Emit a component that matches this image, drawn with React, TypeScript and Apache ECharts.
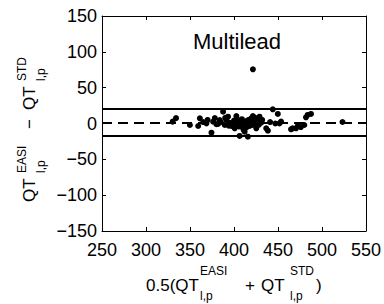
import React, { useEffect, useRef } from "react";
import * as echarts from "echarts";

const xTicks = [250, 300, 350, 400, 450, 500, 550];
const yTicks = [-150, -100, -50, 0, 50, 100, 150];

const meanQT = [
  330.3, 334.1, 349.9, 359.3, 361.2, 365, 368.7, 370, 374.4, 376.3, 378.2, 380,
  381.9, 383.8, 385, 387.6, 389.5, 390, 391.3, 393.2, 394, 395, 397, 398.9, 400,
  400.8, 401.5, 402.7, 403.5, 404.5, 405.5, 406.4, 407, 408.3, 409, 410.2, 411,
  412.1, 413, 414, 414.5, 415.8, 416.5, 417.7, 418.5, 419.6, 420.5, 421.5, 421.5,
  422.5, 423.4, 424, 425.3, 426, 427.2, 428, 429, 430.9, 432, 436.6, 438.5, 441,
  444.1, 447, 449.8, 451.7, 453.5, 464.8, 466.7, 470.5, 472.4, 476, 479.9, 481.8,
  483.7, 487.5, 523.3,
];
const diffQT = [
  2.6, 7.5, -2.1, -3.5, 7.2, 2, 0.2, 5, -12.8, 2.6, 7.5, -1, -0.7, 4.9, 2, 16.5,
  -2.1, 8, 4.9, 9.5, -3, 1, -3.5, 0.2, 4, -6.7, 2, 10.5, -1, 4.9, -4, -17.4, 1,
  -4.4, 6, -0.7, -9, -11.4, 3, 2.6, -5, -18.4, 5, -3.5, 1.5, 7.2, -2, 10.5, 75.6,
  4, -2.1, 8, -6.7, 1, 4.9, -2, 9.5, 1.2, 5, -6.7, -10, 2, 19.8, 0, 13.3, 0.2, 2.6,
  -8.1, -6.7, -6.7, -3.5, -5, -2.1, 8.6, 11.9, 13.3, 2.1,
];
const upperLimit = 21;
const meanDiff = 1.5;
const lowerLimit = -17.5;
const titleText = "Multilead";

const FONT = '"Liberation Sans", Arial, Helvetica, sans-serif';
const C = 0.3465;

function txt(text: string, x: number, baseline: number, size: number) {
  return {
    type: "text",
    x,
    y: baseline - C * size,
    style: {
      text,
      font: `${size}px ${FONT}`,
      fill: "#000",
      align: "left",
      verticalAlign: "middle",
    },
  };
}
function rtxt(text: string, startY: number, baselineX: number, size: number) {
  return {
    type: "text",
    x: baselineX - C * size,
    y: startY,
    rotation: Math.PI / 2,
    style: {
      text,
      font: `${size}px ${FONT}`,
      fill: "#000",
      align: "left",
      verticalAlign: "middle",
    },
  };
}

export default function App() {
  const ref = useRef<HTMLDivElement>(null);
  useEffect(() => {
    document.body.style.margin = "0";
    if (!ref.current) return;
    const chart = echarts.init(ref.current, null, { renderer: "svg" });
    const fmt = (v: number) => String(v).replace("-", "\u2212");
    const axisCommon = {
      type: "value" as const,
      axisLine: { show: true, onZero: false, lineStyle: { color: "#000", width: 1 } },
      axisTick: { show: true, inside: true, length: 4, lineStyle: { color: "#000" } },
      splitLine: { show: false },
    };
    chart.setOption({
      animation: false,
      backgroundColor: "#fff",
      grid: { left: 102, top: 16, width: 265, height: 215, containLabel: false },
      xAxis: [
        {
          ...axisCommon,
          position: "bottom",
          min: xTicks[0],
          max: xTicks[xTicks.length - 1],
          interval: 50,
          axisLabel: { fontSize: 18, color: "#000", fontFamily: FONT, margin: 10, formatter: fmt },
        },
        {
          ...axisCommon,
          position: "top",
          min: xTicks[0],
          max: xTicks[xTicks.length - 1],
          interval: 50,
          axisLabel: { show: false },
        },
      ],
      yAxis: [
        {
          ...axisCommon,
          position: "left",
          min: yTicks[0],
          max: yTicks[yTicks.length - 1],
          interval: 50,
          axisLabel: { fontSize: 18, color: "#000", fontFamily: FONT, margin: 5, formatter: fmt },
        },
        {
          ...axisCommon,
          position: "right",
          min: yTicks[0],
          max: yTicks[yTicks.length - 1],
          interval: 50,
          axisLabel: { show: false },
        },
      ],
      series: [
        {
          type: "scatter",
          xAxisIndex: 0,
          yAxisIndex: 0,
          symbolSize: 6,
          itemStyle: { color: "#000", opacity: 1 },
          data: meanQT.map((x, i) => [x, diffQT[i]]),
          markLine: {
            silent: true,
            symbol: "none",
            label: { show: false },
            data: [
              { yAxis: upperLimit, lineStyle: { color: "#000", width: 2, type: "solid" } },
              { yAxis: meanDiff, lineStyle: { color: "#000", width: 2, type: [10, 6] } },
              { yAxis: lowerLimit, lineStyle: { color: "#000", width: 2, type: "solid" } },
            ],
          },
        },
      ],
      graphic: [
        {
          type: "text",
          x: 237,
          y: 49.3 - C * 22,
          style: {
            text: titleText,
            font: `22px ${FONT}`,
            fill: "#000",
            align: "center",
            verticalAlign: "middle",
          },
        },
        txt("0.5(QT", 146, 291, 17),
        txt("EASI", 200, 275, 12),
        txt("l,p", 200, 300, 12),
        txt("+", 245, 291, 17),
        txt("QT", 261, 291, 17),
        txt("STD", 290, 275, 12),
        txt("l,p", 290, 300, 12),
        txt(")", 316, 291, 17),
        rtxt("QT", 202, 35, 17),
        rtxt("EASI", 173, 26, 12),
        rtxt("l,p", 173, 45, 12),
        rtxt("\u2212", 129, 35, 17),
        rtxt("QT", 110, 35, 17),
        rtxt("STD", 81, 26, 12),
        rtxt("l,p", 81, 45, 12),
      ],
    });
    return () => chart.dispose();
  }, []);
  return <div ref={ref} style={{ width: 384, height: 304 }} />;
}
